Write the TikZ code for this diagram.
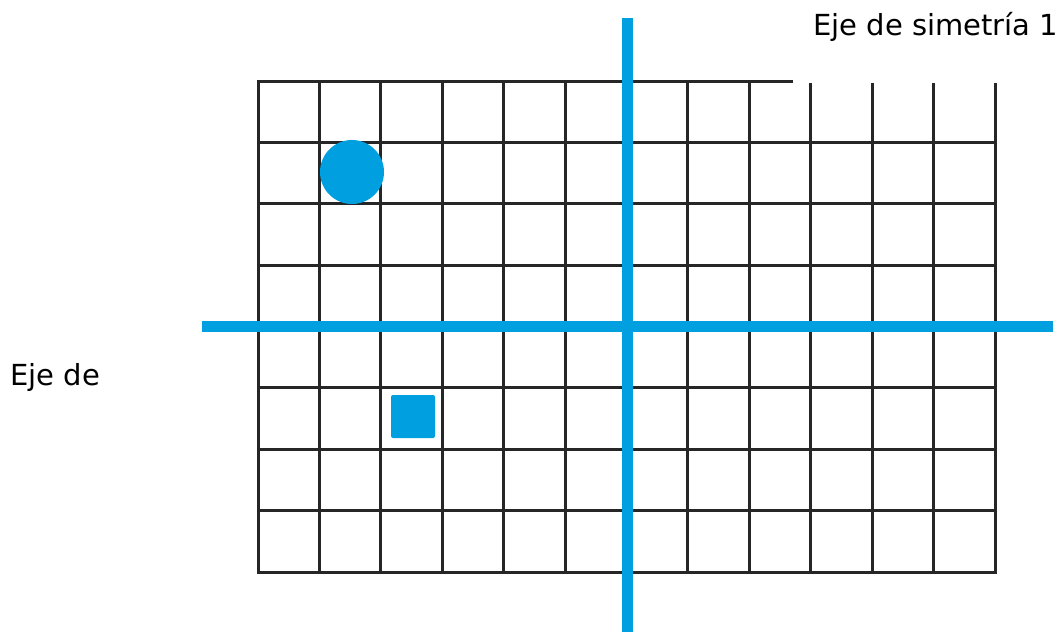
\documentclass[tikz,border=0pt]{standalone}
\usepackage{fontspec}
\setmainfont{DejaVu Sans}
\definecolor{axisblue}{RGB}{0,160,224}
\definecolor{gridgray}{RGB}{38,38,38}
\begin{document}
\begin{tikzpicture}[x=1pt,y=-1pt,
  gridline/.style={draw=gridgray,line width=3pt,line cap=rect},
  axisline/.style={draw=axisblue,line width=11pt},
  lbl/.style={font=\fontsize{29}{34}\selectfont,anchor=base west,inner sep=0pt}]
\useasboundingbox[fill=white] (0,0) rectangle (1062,632);
\foreach \i in {0,...,12} \draw[gridline] ({258+61.42*\i},81) -- ({258+61.42*\i},572);
\foreach \j in {0,...,8} \draw[gridline] (258,{81+61.375*\j}) -- (995,{81+61.375*\j});
\fill[axisblue] (352,172) circle[radius=32];
\fill[axisblue,rounded corners=2pt] (391,395) rectangle (435,438);
\coordinate (vtop) at (627,18);
\coordinate (vbot) at (627,632);
\coordinate (hl) at (202,326);
\coordinate (hr) at (1053,326);
\draw[axisline] (vtop) -- (vbot);
\draw[axisline] (hl) -- (hr);
\fill[white] (793,0) rectangle (1062,82.6);
\node[lbl] (eje1) at (813,35) {Eje de simetría 1};
\node[lbl] (eje2) at (10,385) {Eje de};
\end{tikzpicture}
\end{document}
